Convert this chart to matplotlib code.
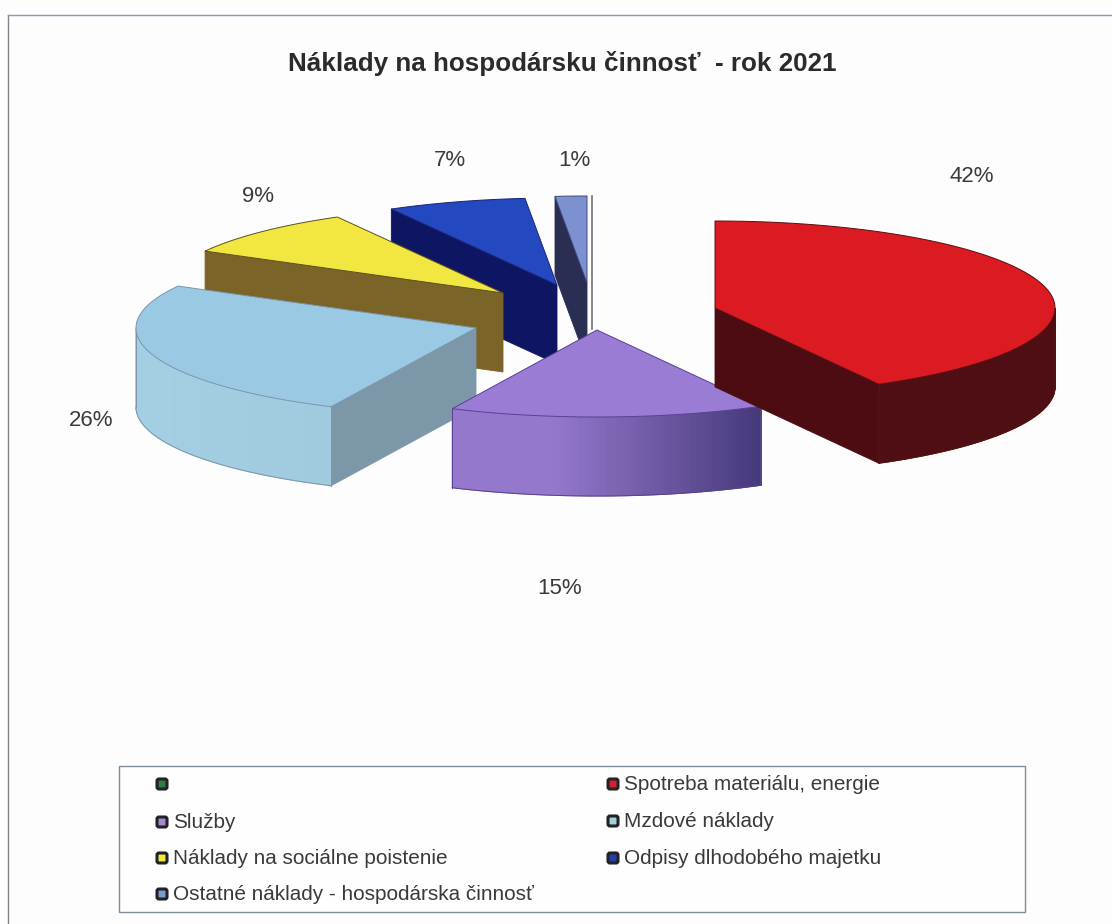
import numpy as np
import matplotlib
matplotlib.use("Agg")
import matplotlib.pyplot as plt
from matplotlib.colors import to_rgb
from matplotlib.patches import FancyBboxPatch, Rectangle

plt.rcParams['font.family'] = ['Liberation Sans', 'DejaVu Sans']

# ---- data ----
title = "Náklady na hospodársku činnosť  - rok 2021"
categories = ["", "Spotreba materiálu, energie", "Služby", "Mzdové náklady",
              "Náklady na sociálne poistenie", "Odpisy dlhodobého majetku",
              "Ostatné náklady - hospodárska činnosť"]
values = [0.0, 42.0, 15.0, 26.0, 8.9, 6.6, 1.5]
value_labels = ["", "42%", "15%", "26%", "9%", "7%", "1%"]

# ---- styles / layout ----
top_colors = ["#2f7d3f", "#dc1a22", "#9a7cd4", "#9ac9e4", "#f2e640", "#2448c0", "#7c92d0"]
cut_colors = ["#555555", "#4c0c12", "#6a5298", "#7c98a8", "#7a6428", "#0e1562", "#2a2e52"]
arc_light = ["#555555", "#4e0e14", "#9478cc", "#a4cfe2", "#7a6428", "#0e1562", "#2a2e52"]
arc_dark = ["#555555", "#4e0e14", "#46397a", "#a0cbde", "#7a6428", "#0e1562", "#2a2e52"]
edge_colors = ["#70707a", "#5a1010", "#5a3f96", "#7c95ac", "#5e5020", "#1a2478", "#40487a"]
swatch_colors = ["#2f7d3f", "#d8202a", "#a888d0", "#a4d0d8", "#f4e83a", "#2040b0", "#7c9ad0"]
centers = [(592, 283), (715, 308), (597, 330), (476, 328), (503, 293), (557, 285), (587, 283)]
RX, RY, H = 340, 87, 79
draw_order = [0, 6, 5, 4, 3, 2, 1]
label_xy = {1: (972, 177), 2: (560, 588), 3: (91, 420), 4: (258, 196), 5: (450, 161), 6: (574, 161)}
leg_cells = [(162, 784), (613, 784), (162, 822), (613, 821), (162, 858), (613, 858), (162, 894)]

fig = plt.figure(figsize=(11.12, 9.24), dpi=100, facecolor="#fdfdfd")
ax = fig.add_axes([0, 0, 1, 1])
ax.set_xlim(0, 1112)
ax.set_ylim(924, 0)
ax.axis("off")

# outer frame
ax.plot([8, 8], [924, 15], color="#80848a", lw=1.0, zorder=1)
ax.plot([8, 1112], [15, 15], color="#7f9cc4", lw=1.0, zorder=1)

ends = np.cumsum(values) / np.sum(values) * 360.0
starts = np.r_[0.0, ends[:-1]]


def pt(c, a, dy=0.0):
    r = np.deg2rad(a)
    return c[0] + RX * np.sin(r), c[1] - RY * np.cos(r) + dy


def mix(a, b, t):
    a, b = np.array(to_rgb(a)), np.array(to_rgb(b))
    return tuple(a + (b - a) * t)


z = 2
for i in draw_order:
    c = centers[i]
    s, e = starts[i], ends[i]
    if e - s <= 0:
        ax.plot([c[0], c[0]], [196, c[1] + 46], color=edge_colors[i], lw=1.2, zorder=z)
        z += 1
        continue
    # cut faces
    for edge_a, visible in ((s, 180 <= s < 360), (e, 0 < e <= 180)):
        if visible:
            p = pt(c, edge_a)
            ax.fill([c[0], p[0], p[0], c[0]], [c[1], p[1], p[1] + H, c[1] + H],
                    fc=cut_colors[i], ec=cut_colors[i], lw=0.6, zorder=z)
    # outer wall with horizontal shading
    a0, a1 = max(s, 90), min(e, 270)
    if a1 > a0:
        ang = np.linspace(a0, a1, 60)
        for k in range(len(ang) - 1):
            t = (ang[k] - a0) / (a1 - a0)
            col = mix(arc_dark[i], arc_light[i], min(1, t * 1.5))
            p, q = pt(c, ang[k]), pt(c, ang[k + 1])
            ax.fill([p[0], q[0], q[0], p[0]], [p[1], q[1], q[1] + H, p[1] + H],
                    fc=col, ec=col, lw=0.8, zorder=z)
        xs, ys = pt(c, ang, H)
        ax.plot(xs, ys, color=edge_colors[i], lw=0.7, zorder=z)
        p = pt(c, a0)
        q = pt(c, a1)
        ax.plot([p[0], p[0]], [p[1], p[1] + H], color=edge_colors[i], lw=0.7, zorder=z)
        ax.plot([q[0], q[0]], [q[1], q[1] + H], color=edge_colors[i], lw=0.7, zorder=z)
    # top face
    ang = np.linspace(s, e, 120)
    xs, ys = pt(c, ang)
    ax.fill(np.r_[c[0], xs], np.r_[c[1], ys], fc=top_colors[i], ec=edge_colors[i], lw=0.7, zorder=z)
    z += 1

# value labels
for i, (x, y) in label_xy.items():
    ax.text(x, y, value_labels[i], ha="center", va="center", fontsize=16, color="#3a3a3a", zorder=30)

ax.text(562, 63, title, ha="center", va="center", fontsize=18.75, fontweight="bold", color="#2b2b2b", zorder=30)

# legend
ax.add_patch(Rectangle((119, 765.5), 906, 146.5, fc="#fefefe", ec="#7f8c9c", lw=1.0, zorder=20))
for i, (x, y) in enumerate(leg_cells):
    ax.add_patch(FancyBboxPatch((x - 4, y - 4), 8, 8, boxstyle="round,pad=1,rounding_size=2",
                                fc=swatch_colors[i], ec="#222228", lw=2.2, zorder=21))
    ax.text(x + 11, y + 6, categories[i], ha="left", va="baseline", fontsize=14.95, color="#3a3a3a", zorder=21)

fig.savefig("out.png", dpi=100, facecolor=fig.get_facecolor())
